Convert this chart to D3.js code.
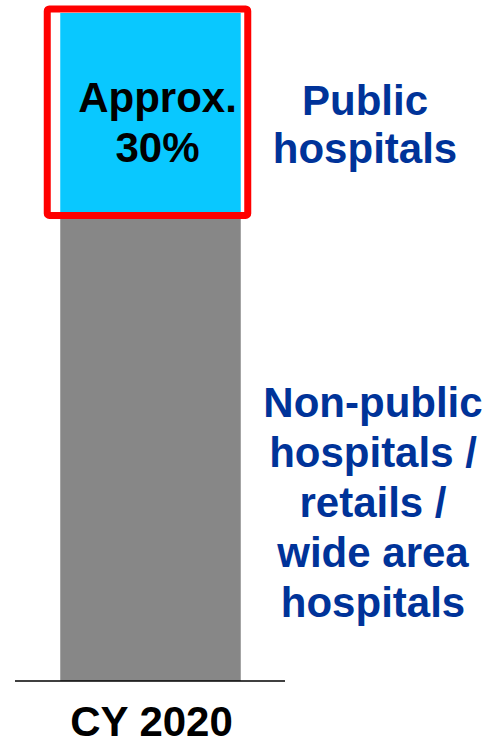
<!DOCTYPE html>
<html>
<head>
<meta charset="utf-8">
<script src="https://cdn.jsdelivr.net/npm/d3@7"></script>
<style>
  body { margin: 0; background: #fff; }
  text { font-family: "Liberation Sans", Arial, sans-serif; font-weight: bold; }
</style>
</head>
<body>
<div id="chart"></div>
<script>
// data
var categories = ["CY 2020"];
var segments = ["Non-public", "Public"];
var shares = [70, 30];
var barLabels = [null, ["Approx.", "30%"]];
var sideLabels = [
  ["Non-public", "hospitals /", "retails /", "wide area", "hospitals"],
  ["Public", "hospitals"]
];
var colors = ["#878787", "#09C8FF"];

var width = 488, height = 742;
var baseY = 681, topY = 13;
var fontSize = "42px";

var svg = d3.select("#chart").append("svg")
  .attr("width", width)
  .attr("height", height);

var x = d3.scaleBand()
  .domain(categories)
  .range([-30, 331])
  .paddingInner(0)
  .paddingOuter(0.5);

var y = d3.scaleLinear()
  .domain([0, 100])
  .range([baseY, topY]);

// stack the segments
var stacked = [];
var acc = 0;
shares.forEach(function (v, i) {
  stacked.push({ name: segments[i], y0: acc, y1: acc + v, color: colors[i] });
  acc += v;
});

svg.selectAll("rect.seg")
  .data(stacked)
  .enter().append("rect")
  .attr("class", "seg")
  .attr("x", x(categories[0]))
  .attr("width", x.bandwidth())
  .attr("y", function (d) { return y(d.y1); })
  .attr("height", function (d) { return y(d.y0) - y(d.y1); })
  .attr("fill", function (d) { return d.color; });

// red highlight box around the public segment
var pub = stacked[1];
svg.append("rect")
  .attr("x", x(categories[0]) - 13)
  .attr("y", y(pub.y1) - 4)
  .attr("width", x.bandwidth() + 20)
  .attr("height", y(pub.y0) - y(pub.y1) + 6)
  .attr("rx", 2)
  .attr("fill", "none")
  .attr("stroke", "#FF0000")
  .attr("stroke-width", 7);

// baseline
svg.append("line")
  .attr("x1", 15).attr("x2", 285)
  .attr("y1", baseY).attr("y2", baseY)
  .attr("stroke", "#000")
  .attr("stroke-width", 1.5);

// category label
svg.selectAll("text.cat")
  .data(categories)
  .enter().append("text")
  .attr("class", "cat")
  .attr("x", function (d) { return x(d) + x.bandwidth() / 2 + 1; })
  .attr("y", 736)
  .attr("text-anchor", "middle")
  .attr("font-size", fontSize)
  .attr("fill", "#000")
  .text(function (d) { return d; });

// label inside the public segment
var inner = svg.append("text")
  .attr("text-anchor", "middle")
  .attr("font-size", fontSize)
  .attr("fill", "#000");
barLabels[1].forEach(function (t, i) {
  inner.append("tspan")
    .attr("x", x(categories[0]) + x.bandwidth() / 2 + 7)
    .attr("y", 112 + i * 50)
    .text(t);
});

// side labels
var sidePos = [{ cx: 373, y0: 417 }, { cx: 365, y0: 115 }];
sideLabels.forEach(function (lines, k) {
  var t = svg.append("text")
    .attr("text-anchor", "middle")
    .attr("font-size", fontSize)
    .attr("fill", "#003399");
  lines.forEach(function (s, i) {
    t.append("tspan")
      .attr("x", sidePos[k].cx)
      .attr("y", sidePos[k].y0 + i * (k === 1 ? 48 : 50))
      .text(s);
  });
});
</script>
</body>
</html>
